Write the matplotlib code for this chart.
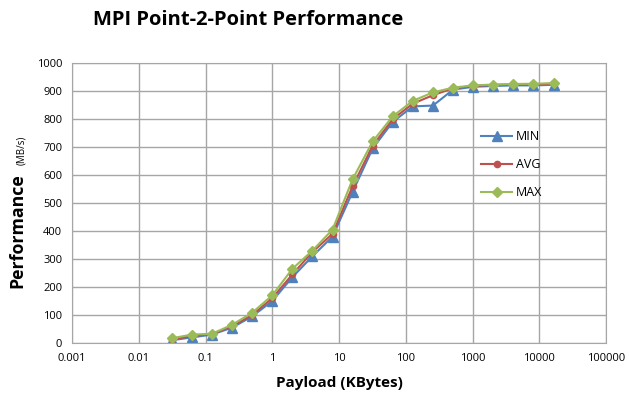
import matplotlib
matplotlib.use("Agg")
import matplotlib.pyplot as plt

payload_kb = [1/32, 1/16, 1/8, 1/4, 1/2, 1, 2, 4, 8, 16, 32, 64, 128, 256, 512, 1024, 2048, 4096, 8192, 16384]
perf_min = [10, 20, 30, 55, 95, 150, 235, 310, 380, 540, 695, 790, 845, 848, 905, 915, 918, 920, 920, 922]
perf_avg = [12, 25, 32, 60, 100, 160, 245, 325, 390, 560, 705, 800, 855, 885, 910, 918, 922, 923, 924, 926]
perf_max = [17, 30, 33, 65, 108, 170, 265, 330, 405, 585, 720, 810, 865, 895, 912, 920, 923, 925, 926, 928]
x_ticks = [0.001, 0.01, 0.1, 1, 10, 100, 1000, 10000, 100000]
x_tick_labels = ["0.001", "0.01", "0.1", "1", "10", "100", "1000", "10000", "100000"]
y_ticks = list(range(0, 1001, 100))

plt.rcParams['font.family'] = ['Open Sans', 'DejaVu Sans']

fig = plt.figure(figsize=(6.29, 3.94), dpi=100)
ax = fig.add_axes([72/629, 1-343/394, (606-72)/629, (343-63)/394])

ax.plot(payload_kb, perf_min, color='#4F81BD', marker='^', markersize=7, lw=1.5, label='MIN')
ax.plot(payload_kb, perf_avg, color='#C0504D', marker='o', markersize=4.5, lw=1.5, label='AVG')
ax.plot(payload_kb, perf_max, color='#9BBB59', marker='D', markersize=5.5, lw=1.5, label='MAX')

ax.set_xscale('log')
ax.set_xlim(0.001, 100000)
ax.set_ylim(0, 1000)
ax.set_xticks(x_ticks)
ax.set_xticklabels(x_tick_labels)
ax.minorticks_off()
ax.set_yticks(y_ticks)
ax.tick_params(axis='both', length=0, labelsize=8, pad=7, colors='#000000')
ax.grid(True, color='#A6A6A6', lw=1)
for s in ax.spines.values():
    s.set_color('#A6A6A6')

ax.legend(loc='upper left', bbox_to_anchor=(0.745, 0.80), frameon=False, fontsize=9,
          handlelength=2.5, labelspacing=1.2, handletextpad=0.3)

fig.text(248/629, 1-20/394, 'MPI Point-2-Point Performance', ha='center', va='center',
         fontsize=14.5, fontweight='bold')
fig.text(339/629, 1-383/394, 'Payload (KBytes)', ha='center', va='center',
         fontsize=11, fontweight='bold')
fig.text(17/629, 1-231/394, 'Performance', rotation=90, ha='center', va='center',
         fontsize=12.8, fontweight='bold')
fig.text(22/629, 1-150/394, '(MB/s)', rotation=90, ha='center', va='center',
         fontsize=7)

fig.savefig('out.png', dpi=100)
